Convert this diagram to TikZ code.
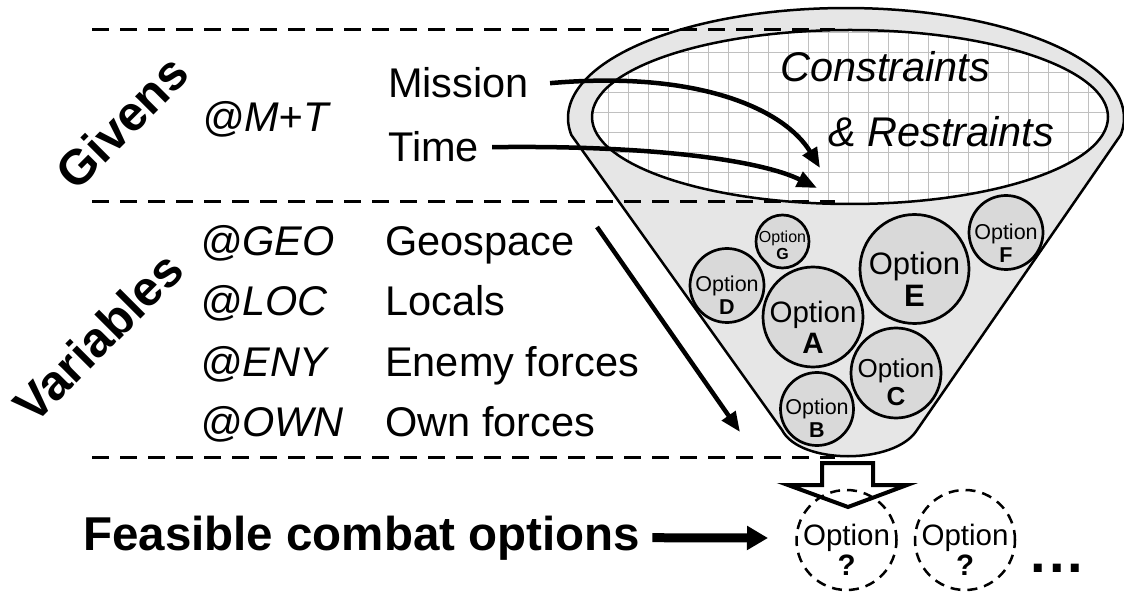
\documentclass[tikz,border=0pt]{standalone}
\usepackage{fontspec}
\setmainfont{Liberation Sans}
\usetikzlibrary{arrows.meta}
\definecolor{funnelgray}{RGB}{230,230,230}
\definecolor{optgray}{RGB}{217,217,217}
\definecolor{gridgray}{RGB}{192,192,192}
\begin{document}
\begin{tikzpicture}[x=1pt,y=-1pt,
  txt/.style={font=\fontsize{41.5}{48}\selectfont, inner sep=0, anchor=base west},
  itx/.style={font=\fontsize{41.5}{48}\selectfont\itshape, inner sep=0, anchor=base west},
  bigb/.style={font=\fontsize{49}{56}\selectfont\bfseries, inner sep=0, rotate=45},
  sepline/.style={line width=3pt, dash pattern=on 17pt off 11pt},
  optc/.style={circle, draw, line width=2.7pt, fill=optgray, inner sep=0},
  dashc/.style={circle, draw, line width=2.5pt, dash pattern=on 10pt off 7pt, inner sep=0, minimum size=100pt},
  otext/.style={align=center, inner sep=0},
  arr/.style={line width=4.5pt, -{Triangle[length=20pt,width=16pt]}},
  gridline/.style={gridgray, line width=1pt}
]
\useasboundingbox (0,0) rectangle (1124,593);

% funnel body with outer rim
\filldraw[fill=funnelgray, line width=2.5pt, line join=round]
  plot[domain=-8.9:188.9, samples=150] ({846+278*cos(\x)},{118-110*sin(\x)})
  -- (782,430) .. controls (800,465) and (895,465) .. (917,430) -- cycle;

% inner ellipse with grid
\fill[white] (850,117) ellipse [x radius=258pt, y radius=87pt];
\begin{scope}
  \clip (850,117) ellipse [x radius=258pt, y radius=87pt];
  \foreach \gx in {588,608,...,1108} \draw[gridline] (\gx,20) -- (\gx,215);
  \foreach \gy in {33,53,...,213} \draw[gridline] (585,\gy) -- (1115,\gy);
\end{scope}
\draw[line width=2.5pt] (850,117) ellipse [x radius=258pt, y radius=87pt];

% options inside funnel
\node[optc, minimum size=100pt] (A) at (813,317) {};
\node[optc, minimum size=109pt] (E) at (914.5,269) {};
\node[optc, minimum size=90pt] (C) at (896,373) {};
\node[optc, minimum size=74pt] (D) at (727,285.5) {};
\node[optc, minimum size=73pt] (B) at (817,409) {};
\node[optc, minimum size=74pt] (F) at (1006,232.5) {};
\node[optc, minimum size=53pt] (G) at (782.5,241.5) {};
\node[otext, font=\fontsize{29.5}{30.5}\selectfont] (At) at (813,327.5) {Option\\\textbf{A}};
\node[otext, font=\fontsize{31}{32}\selectfont] (Et) at (914.5,279.5) {Option\\\textbf{E}};
\node[otext, font=\fontsize{26}{28}\selectfont] (Ct) at (896,382.5) {Option\\\textbf{C}};
\node[otext, font=\fontsize{21.5}{23}\selectfont] (Dt) at (727,295) {Option\\\textbf{D}};
\node[otext, font=\fontsize{21.5}{23}\selectfont] (Bt) at (817,418.5) {Option\\\textbf{B}};
\node[otext, font=\fontsize{21.5}{23}\selectfont] (Ft) at (1006,243) {Option\\\textbf{F}};
\node[otext, font=\fontsize{16}{17}\selectfont] (Gt) at (782.5,245) {Option\\\textbf{G}};

% separators
\draw[sepline] (92,30) -- (835,30);
\draw[sepline] (92,202) -- (835,202);
\draw[sepline] (92,457) -- (835,457);

% block arrow
\draw[line width=4pt, fill=white, line join=miter]
  (822,463) -- (873,463) -- (873,485) -- (907,485) -- (848,507) -- (788,485) -- (822,485) -- cycle;

% resulting options
\node[dashc] (q1) at (846.5,540) {};
\node[dashc] (q2) at (965,540) {};
\node[otext, font=\fontsize{29.5}{30.5}\selectfont] (q1t) at (846.5,550) {Option\\\textbf{?}};
\node[otext, font=\fontsize{29.5}{30.5}\selectfont] (q2t) at (965,550) {Option\\\textbf{?}};
\node[font=\fontsize{56}{64}\selectfont\bfseries, inner sep=0, anchor=base] (dots) at (1057,572) {.\kern3pt.\kern3pt.};

% texts
\node[bigb] (givens) at (122,122) {Givens};
\node[bigb] (variables) at (98,337) {Variables};
\node[itx] (mt) at (202,132) {@M+T};
\node[txt] (mission) at (388,98) {Mission};
\node[txt] (time) at (388,162) {Time};
\node[itx] (cons) at (780,82) {Constraints};
\node[itx] (rest) at (828,147) {\& Restraints};
\node[itx] (geo) at (200,256) {@GEO};
\node[itx] (loc) at (200,316) {@LOC};
\node[itx] (eny) at (200,377) {@ENY};
\node[itx] (own) at (200,436) {@OWN};
\node[txt] (geos) at (385,256) {Geospace};
\node[txt] (locs) at (385,316) {Locals};
\node[txt] (enys) at (385,377) {Enemy forces};
\node[txt] (owns) at (385,436) {Own forces};
\node[font=\fontsize{47.5}{54}\selectfont\bfseries, inner sep=0, anchor=base west] (feas) at (83,550) {Feasible combat options};

% connectors
\coordinate (mEnd) at (820,168);
\coordinate (tEnd) at (817,188);
\coordinate (vStart) at (597,227);
\coordinate (vEnd) at (740,432);
\coordinate (fEnd) at (768,538);
\draw[arr] ([xshift=21pt]mission.east) .. controls (700,70) and (785,110) .. (mEnd);
\draw[arr] ([xshift=13pt]time.east) .. controls (650,145) and (760,160) .. (tEnd);
\draw[arr] (vStart) -- (vEnd);
\draw[line width=9pt, -{Triangle[length=21pt,width=23pt]}] ([xshift=12pt]feas.east) -- (fEnd);
\end{tikzpicture}
\end{document}
